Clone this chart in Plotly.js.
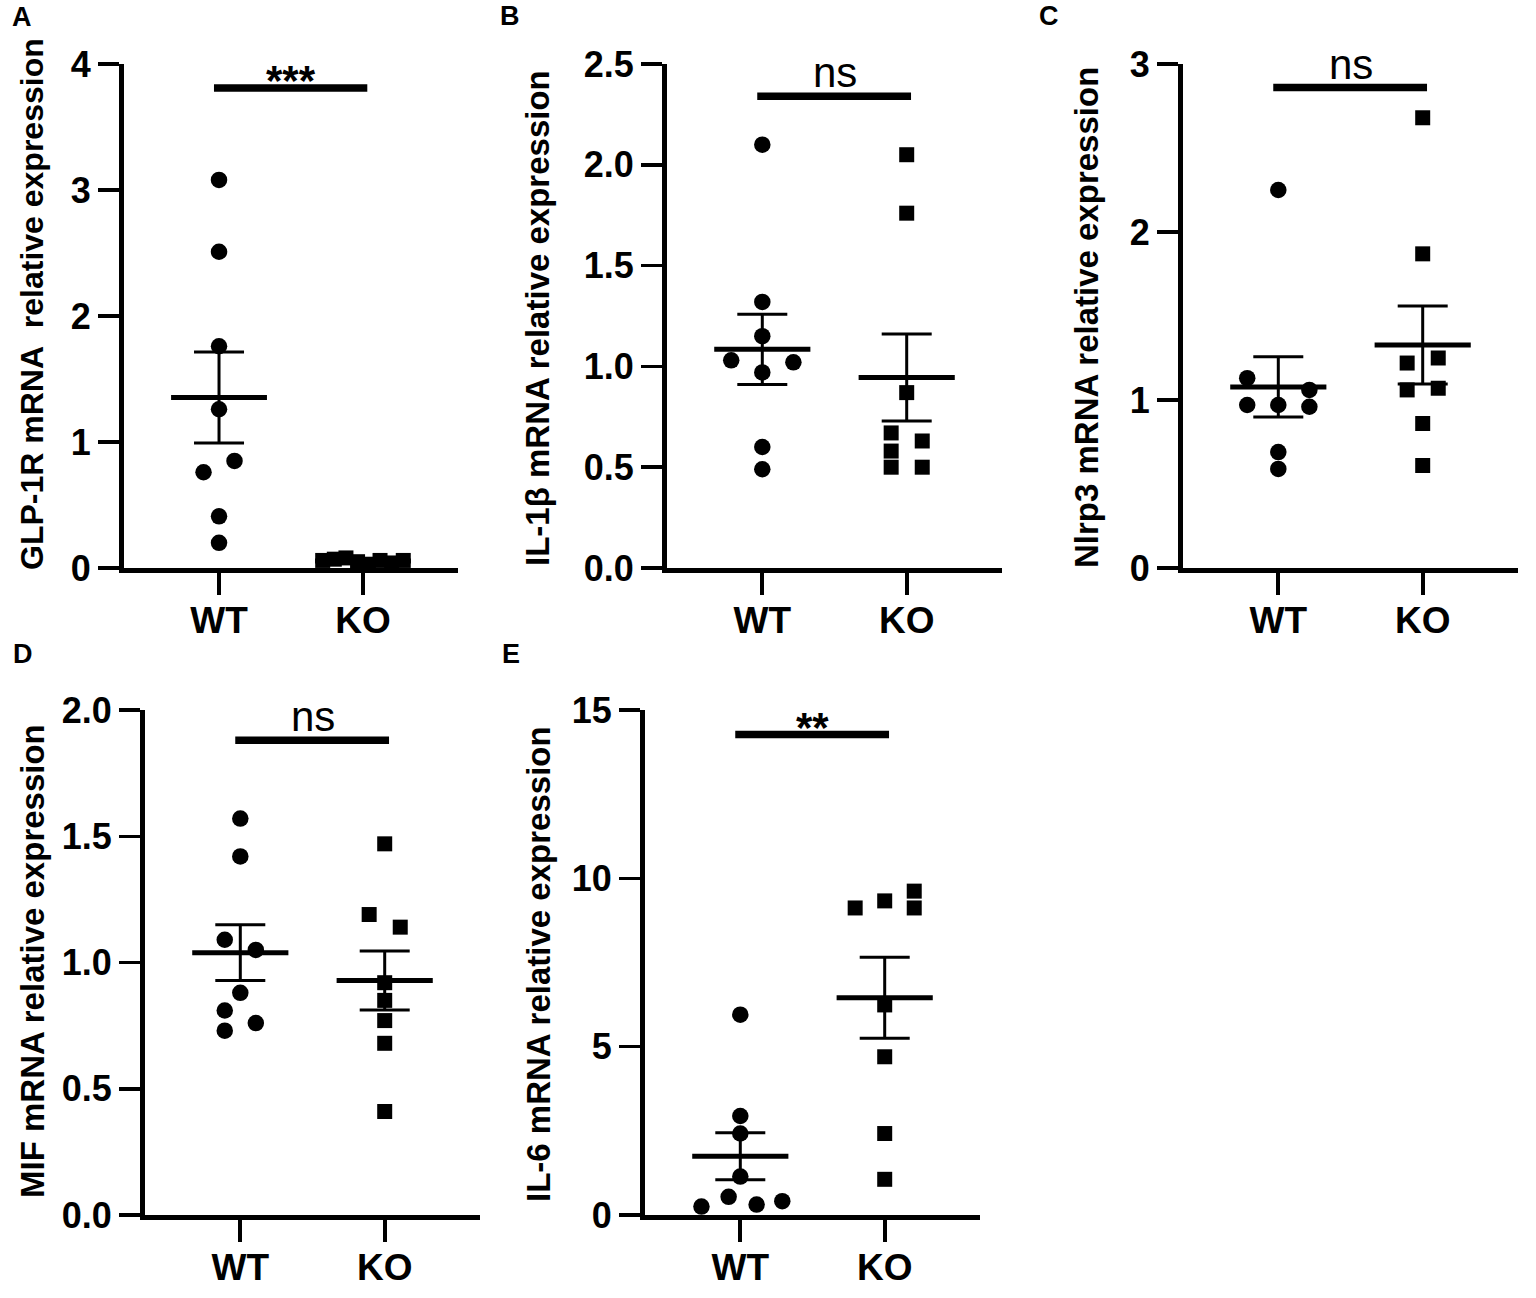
<!DOCTYPE html>
<html>
<head>
<meta charset="utf-8">
<script src="https://cdn.plot.ly/plotly-3.0.1.min.js"></script>
<style>
  html, body { margin: 0; padding: 0; background: #fff; }
  #myDiv { width: 1536px; height: 1298px; }
</style>
</head>
<body>
<div id="myDiv"></div>
<script>
// ---- data ----
var groups = ['WT', 'KO'];

var glp1rWT = [3.08, 2.51, 1.76, 1.26, 0.85, 0.76, 0.41, 0.20];
var glp1rKO = [0.06, 0.07, 0.08, 0.05, 0.03, 0.06, 0.04, 0.06];
var il1bWT  = [2.10, 1.32, 1.15, 1.03, 1.02, 0.97, 0.60, 0.49];
var il1bKO  = [2.05, 1.76, 0.87, 0.67, 0.63, 0.58, 0.50, 0.50];
var nlrp3WT = [2.25, 1.13, 1.06, 0.97, 0.97, 0.96, 0.69, 0.59];
var nlrp3KO = [2.68, 1.87, 1.25, 1.22, 1.07, 1.06, 0.86, 0.61];
var mifWT   = [1.57, 1.42, 1.09, 1.05, 0.88, 0.81, 0.76, 0.73];
var mifKO   = [1.47, 1.19, 1.14, 0.92, 0.85, 0.77, 0.68, 0.41];
var il6WT   = [5.95, 2.94, 2.42, 1.14, 0.54, 0.41, 0.31, 0.25];
var il6KO   = [9.62, 9.33, 9.12, 9.12, 6.24, 4.70, 2.42, 1.06];

// tick values of each y axis
var glp1rTicks = [0, 1, 2, 3, 4];
var il1bTicks  = [0, 0.5, 1, 1.5, 2, 2.5];
var nlrp3Ticks = [0, 1, 2, 3];
var mifTicks   = [0, 0.5, 1, 1.5, 2];
var il6Ticks   = [0, 5, 10, 15];

var yTitles = [
  'GLP-1R mRNA\u00a0 relative expression',
  'IL-1\u03b2 mRNA relative expression',
  'Nlrp3 mRNA relative expression',
  'MIF mRNA relative expression',
  'IL-6 mRNA relative expression'
];

var sigLabels  = ['***', 'ns', 'ns', 'ns', '**'];
var sigHeights = [3.81, 2.34, 2.86, 1.88, 14.27];

// ---- scatter spread (Prism style swarm), in dot widths ----
var glp1rSpreadWT = [0, 0, 0, 0, 1, -1, 0, 0];
var glp1rSpreadKO = [-2.6, -1.85, -1.1, -0.35, 0.35, 1.1, 1.85, 2.6];
var il1bSpreadWT  = [0, 0, 0, -2, 2, 0, 0, 0];
var il1bSpreadKO  = [0, 0, 0, -1, 1, -1, -1, 1];
var nlrp3SpreadWT = [0, -2, 2, -2, 0, 2, 0, 0];
var nlrp3SpreadKO = [0, 0, 1, -1, 1, -1, 0, 0];
var mifSpreadWT   = [0, 0, -1, 1, 0, -1, 1, -1];
var mifSpreadKO   = [0, -1, 1, 0, 0, 0, 0, 0];
var il6SpreadWT   = [0, 0, 0, 0, -0.75, 2.7, 1.05, -2.5];
var il6SpreadKO   = [1.9, 0, -1.9, 1.9, 0, 0, 0, 0];

var FONT = 'Liberation Sans, Arial, Helvetica, sans-serif';
var W = 1536, H = 1298;
var dotStep = 15.5 / 144;   // one dot width in category units
var meanHalf = 0.333;       // half length of the mean line
var xRange = [-0.66, 1.66];

// panel boxes in px: [left, right, top, bottom]
var panels = [
  {letter: 'A', wt: glp1rWT, ko: glp1rKO, sWT: glp1rSpreadWT, sKO: glp1rSpreadKO, ticks: glp1rTicks, fmt: '',
   box: [124, 458, 64, 568], titleAt: [32, 304], titleSize: 32, letterAt: [22, 17]},
  {letter: 'B', wt: il1bWT, ko: il1bKO, sWT: il1bSpreadWT, sKO: il1bSpreadKO, ticks: il1bTicks, fmt: '.1f',
   box: [667, 1002, 64, 568], titleAt: [537, 318], titleSize: 33, letterAt: [510, 16]},
  {letter: 'C', wt: nlrp3WT, ko: nlrp3KO, sWT: nlrp3SpreadWT, sKO: nlrp3SpreadKO, ticks: nlrp3Ticks, fmt: '',
   box: [1183, 1518, 64, 568], titleAt: [1086, 318], titleSize: 33, letterAt: [1049, 16]},
  {letter: 'D', wt: mifWT, ko: mifKO, sWT: mifSpreadWT, sKO: mifSpreadKO, ticks: mifTicks, fmt: '.1f',
   box: [145, 480, 710, 1215], titleAt: [32, 961], titleSize: 33, letterAt: [23, 654]},
  {letter: 'E', wt: il6WT, ko: il6KO, sWT: il6SpreadWT, sKO: il6SpreadKO, ticks: il6Ticks, fmt: '',
   box: [645, 980, 710, 1215], titleAt: [538, 964], titleSize: 33, letterAt: [511, 654]}
];

function mean(a) { return a.reduce(function (s, v) { return s + v; }, 0) / a.length; }
function sem(a) {
  var m = mean(a);
  var ss = a.reduce(function (s, v) { return s + (v - m) * (v - m); }, 0);
  return Math.sqrt(ss / (a.length - 1)) / Math.sqrt(a.length);
}

var data = [];
var layout = {
  width: W, height: H,
  margin: {l: 0, r: 0, t: 0, b: 0},
  paper_bgcolor: '#fff', plot_bgcolor: '#fff',
  showlegend: false,
  font: {family: FONT, color: '#000'},
  annotations: []
};

panels.forEach(function (p, i) {
  var k = i === 0 ? '' : String(i + 1);
  var xa = 'x' + k, ya = 'y' + k;
  var mW = mean(p.wt), mK = mean(p.ko);
  var eW = sem(p.wt), eK = sem(p.ko);

  data.push({
    x: p.wt.map(function (v, j) { return 0 + p.sWT[j] * dotStep; }), y: p.wt,
    xaxis: xa, yaxis: ya, type: 'scatter', mode: 'markers', cliponaxis: false,
    marker: {symbol: 'circle', size: 16.5, color: '#000'}, name: groups[0]
  });
  data.push({
    x: p.ko.map(function (v, j) { return 1 + p.sKO[j] * dotStep; }), y: p.ko,
    xaxis: xa, yaxis: ya, type: 'scatter', mode: 'markers', cliponaxis: false,
    marker: {symbol: 'square', size: 15, color: '#000'}, name: groups[1]
  });
  // mean lines
  data.push({
    x: [-meanHalf, meanHalf, null, 1 - meanHalf, 1 + meanHalf],
    y: [mW, mW, null, mK, mK],
    xaxis: xa, yaxis: ya, type: 'scatter', mode: 'lines', cliponaxis: false,
    line: {color: '#000', width: 5}, hoverinfo: 'skip'
  });
  // SEM
  data.push({
    x: [0, 1], y: [mW, mK],
    xaxis: xa, yaxis: ya, type: 'scatter', mode: 'markers', cliponaxis: false,
    marker: {size: 1, opacity: 0},
    error_y: {type: 'data', array: [eW, eK], visible: true, color: '#000', thickness: 3, width: 25}
  });
  // significance bar
  data.push({
    x: [-0.035, 1.03], y: [sigHeights[i], sigHeights[i]],
    xaxis: xa, yaxis: ya, type: 'scatter', mode: 'lines', cliponaxis: false,
    line: {color: '#000', width: 7.5}, hoverinfo: 'skip'
  });

  var star = sigLabels[i] !== 'ns';
  layout.annotations.push({
    xref: xa, yref: ya, x: 0.5, y: sigHeights[i], text: sigLabels[i],
    showarrow: false, xanchor: 'center', yanchor: 'bottom', yshift: star ? -18 : -2,
    font: {family: FONT, size: 42, weight: star ? 'bold' : 'normal', color: '#000'}
  });
  layout.annotations.push({
    xref: 'paper', yref: 'paper', x: p.titleAt[0] / W, y: 1 - p.titleAt[1] / H,
    text: yTitles[i], textangle: -90, showarrow: false, xanchor: 'center', yanchor: 'middle',
    font: {family: FONT, size: p.titleSize, weight: 'bold', color: '#000'}
  });
  layout.annotations.push({
    xref: 'paper', yref: 'paper', x: p.letterAt[0] / W, y: 1 - p.letterAt[1] / H,
    text: p.letter, showarrow: false, xanchor: 'center', yanchor: 'middle',
    font: {family: FONT, size: 27, weight: 'bold', color: '#000'}
  });

  layout['xaxis' + k] = {
    domain: [p.box[0] / W, p.box[1] / W], anchor: ya, range: xRange,
    tickvals: [0, 1], ticktext: groups,
    showline: true, linewidth: 5, linecolor: '#000',
    ticks: 'outside', ticklen: 22, tickwidth: 4, tickcolor: '#000',
    showgrid: false, zeroline: false, ticklabelstandoff: -6,
    tickfont: {family: FONT, size: 37, weight: 'bold', color: '#000'},
    fixedrange: true
  };
  layout['yaxis' + k] = {
    domain: [1 - p.box[3] / H, 1 - p.box[2] / H], anchor: xa,
    range: [0, p.ticks[p.ticks.length - 1]], tickvals: p.ticks, tickformat: p.fmt,
    showline: true, linewidth: 5, linecolor: '#000',
    ticks: 'outside', ticklen: 21, tickwidth: 3.5, tickcolor: '#000',
    showgrid: false, zeroline: false, ticklabelstandoff: 0,
    tickfont: {family: FONT, size: 36, weight: 'bold', color: '#000'},
    fixedrange: true
  };
});

Plotly.newPlot('myDiv', data, layout, {staticPlot: true, displayModeBar: false});
</script>
</body>
</html>
